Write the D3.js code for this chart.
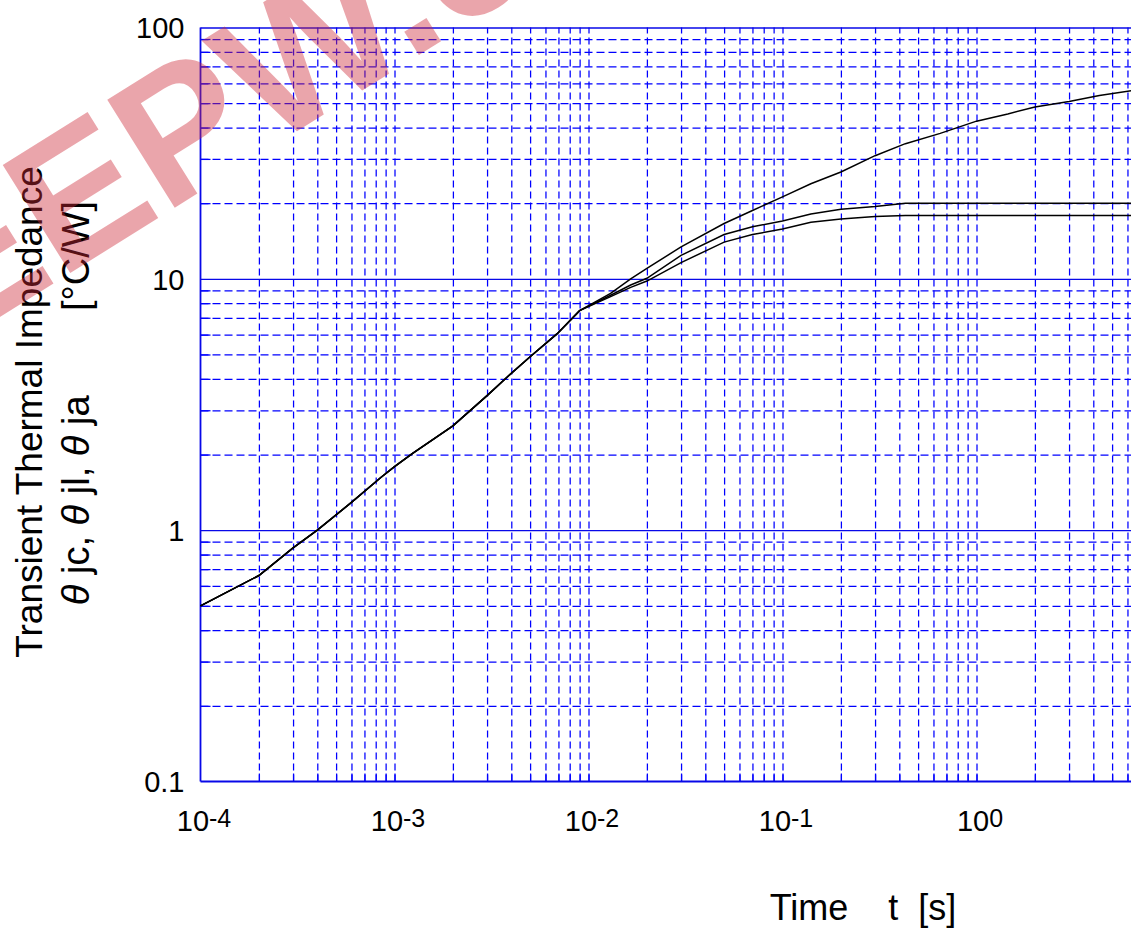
<!DOCTYPE html>
<html>
<head>
<meta charset="utf-8">
<script src="https://cdn.jsdelivr.net/npm/d3@7"></script>
<style>
  body { margin: 0; background: #fff; }
  svg { display: block; font-family: "Liberation Sans", Arial, sans-serif; }
</style>
</head>
<body>
<div id="chart"></div>
<script>
// time axis [s]
const times = [1e-4, 2e-4, 3e-4, 4e-4, 6e-4, 8.5e-4, 1e-3, 1.24e-3, 2e-3, 3e-3, 3.8e-3, 5e-3, 6.9e-3, 9e-3,
  1.3e-2, 1.65e-2, 2e-2, 3e-2, 5e-2, 7e-2, 0.1, 0.14, 0.2, 0.3, 0.43, 0.65, 1, 1.45, 2, 3, 4.3, 6.3, 10];
// transient thermal impedance [°C/W]
const thetaJa = [0.5, 0.66, 0.85, 1.0, 1.29, 1.62, 1.79, 2.02, 2.6, 3.43, 4.06, 4.9, 6.05, 7.47,
  8.75, 10.0, 11.0, 13.4, 16.6, 18.7, 21.2, 23.9, 26.6, 30.9, 34.5, 37.9, 42.4, 45.3, 48.3, 50.8, 53.6, 56.1, 59.5];
const thetaJl = [0.5, 0.66, 0.85, 1.0, 1.29, 1.62, 1.79, 2.02, 2.6, 3.43, 4.06, 4.9, 6.05, 7.47,
  8.6, 9.45, 10.05, 12.4, 15.0, 16.1, 17.0, 18.1, 18.9, 19.4, 20, 20, 20, 20, 20, 20, 20, 20, 20];
const thetaJc = [0.5, 0.66, 0.85, 1.0, 1.29, 1.62, 1.79, 2.02, 2.6, 3.43, 4.06, 4.9, 6.05, 7.47,
  8.5, 9.25, 9.8, 11.6, 14.0, 15.0, 15.8, 16.8, 17.3, 17.7, 17.85, 17.85, 17.85, 17.85, 17.85, 17.85, 17.85, 17.85, 17.85];

const xDecades = [-4, -3, -2, -1, 0];
const yTickLabels = ['0.1', '1', '10', '100'];

const COLORS = {
  GRID: '#0000ff',
  AXIS: '#0808e8',
  CURVE: '#000',
  MARK: 'rgba(205, 40, 55, 0.42)'
};

const width = 1131;
const height = 932;
const plotLeft = 200.5, plotTop = 27.5, plotBottom = 781.5;

const x = d3.scaleLog().domain([1e-4, 10]).range([plotLeft, plotLeft + 5 * 194]);
const y = d3.scaleLog().domain([0.1, 100]).range([plotBottom, plotTop]);

const svg = d3.create('svg')
  .attr('width', width)
  .attr('height', height)
  .attr('viewBox', [0, 0, width, height]);

// minor / decade tick values
const xTicks = [];
xDecades.forEach(e => d3.range(1, 10).forEach(k => xTicks.push(k * Math.pow(10, e))));
xTicks.push(10);
const yMinor = [];
[-1, 0, 1].forEach(e => d3.range(2, 10).forEach(k => yMinor.push(k * Math.pow(10, e))));

const styleGrid = (g, dash) => g.selectAll('line')
  .attr('stroke', COLORS.GRID)
  .attr('stroke-width', 1.25)
  .attr('stroke-dasharray', dash);

// vertical grid (all dashed)
svg.append('g')
  .attr('transform', `translate(0,${plotBottom})`)
  .call(d3.axisBottom(x).tickValues(xTicks.slice(1)).tickSize(-(plotBottom - plotTop)).tickFormat(''))
  .call(g => g.select('.domain').remove())
  .call(g => styleGrid(g, '7,4'));

// horizontal minor grid (dashed)
svg.append('g')
  .attr('transform', `translate(${plotLeft},0)`)
  .call(d3.axisRight(y).tickValues(yMinor).tickSize(width - plotLeft).tickFormat(''))
  .call(g => g.select('.domain').remove())
  .call(g => styleGrid(g, '8,4'));

// inward ticks on the left and bottom axes
svg.append('g')
  .attr('transform', `translate(${plotLeft},0)`)
  .call(d3.axisRight(y).tickValues(yMinor).tickSize(10).tickFormat(''))
  .call(g => g.select('.domain').remove())
  .call(g => styleGrid(g, null));
svg.append('g')
  .attr('transform', `translate(0,${plotBottom})`)
  .call(d3.axisTop(x).tickValues(xTicks.slice(1)).tickSize(8).tickFormat(''))
  .call(g => g.select('.domain').remove())
  .call(g => styleGrid(g, null));

// horizontal decade grid (solid)
svg.append('g')
  .attr('transform', `translate(${plotLeft},0)`)
  .call(d3.axisRight(y).tickValues([1, 10, 100]).tickSize(width - plotLeft).tickFormat(''))
  .call(g => g.select('.domain').remove())
  .call(g => g.selectAll('line')
    .attr('stroke', COLORS.AXIS)
    .attr('stroke-width', 1.4));

// frame: left and bottom axis lines
svg.append('line')
  .attr('x1', plotLeft).attr('x2', plotLeft).attr('y1', plotTop).attr('y2', plotBottom)
  .attr('stroke', COLORS.AXIS).attr('stroke-width', 1.8);
svg.append('line')
  .attr('x1', plotLeft).attr('x2', width).attr('y1', plotBottom).attr('y2', plotBottom)
  .attr('stroke', COLORS.AXIS).attr('stroke-width', 1.8);

// curves
const line = d3.line()
  .x((d, i) => x(times[i]))
  .y(d => y(d));

svg.append('g')
  .attr('fill', 'none')
  .attr('stroke', COLORS.CURVE)
  .attr('stroke-width', 1.5)
  .selectAll('path')
  .data([thetaJa, thetaJl, thetaJc])
  .join('path')
    .attr('d', line);

// y tick labels
svg.append('g')
  .attr('transform', `translate(${plotLeft - 16},0)`)
  .call(d3.axisLeft(y).tickValues(yTickLabels.map(Number)).tickSize(0).tickPadding(0)
    .tickFormat((d, i) => yTickLabels[i]))
  .call(g => g.select('.domain').remove())
  .call(g => g.selectAll('text')
    .attr('font-family', '"Liberation Sans", Arial, sans-serif')
    .attr('font-size', 29)
    .attr('fill', '#000')
    .attr('dy', '0.36em'));

// x tick labels: 10 with raised exponent
svg.append('g')
  .attr('transform', `translate(3,${plotBottom + 49})`)
  .call(d3.axisBottom(x).tickValues(xDecades.map(e => Math.pow(10, e))).tickSize(0).tickPadding(0)
    .tickFormat(''))
  .call(g => g.select('.domain').remove())
  .call(g => g.selectAll('.tick text')
    .attr('font-family', '"Liberation Sans", Arial, sans-serif')
    .attr('font-size', 29)
    .attr('fill', '#000')
    .attr('dy', 0)
    .each(function(d, i) {
      const t = d3.select(this);
      t.append('tspan').text('10');
      t.append('tspan').attr('font-size', 25).attr('dy', -4).text(String(xDecades[i]));
    }));

// axis titles
svg.append('text')
  .attr('x', 863)
  .attr('y', 920)
  .attr('text-anchor', 'middle')
  .attr('font-size', 36)
  .style('white-space', 'pre')
  .text('Time    t  [s]');

svg.append('text')
  .attr('transform', 'translate(42,412) rotate(-90)')
  .attr('text-anchor', 'middle')
  .attr('font-size', 37)
  .text('Transient Thermal Impedance');

const yTitle2 = svg.append('text')
  .attr('transform', 'translate(89,403) rotate(-90)')
  .attr('text-anchor', 'middle')
  .attr('font-size', 38)
  .style('white-space', 'pre');
['jc, ', 'jl, ', 'ja        [°C/W]'].forEach(s => {
  yTitle2.append('tspan').attr('font-style', 'italic').text('θ');
  yTitle2.append('tspan').text(' ' + s);
});

// watermark
svg.append('text')
  .attr('transform', 'translate(-45,345) rotate(-32)')
  .attr('font-size', 185)
  .attr('font-weight', 'bold')
  .attr('fill', COLORS.MARK)
  .text('EEPW.com');

document.getElementById('chart').append(svg.node());
</script>
</body>
</html>
